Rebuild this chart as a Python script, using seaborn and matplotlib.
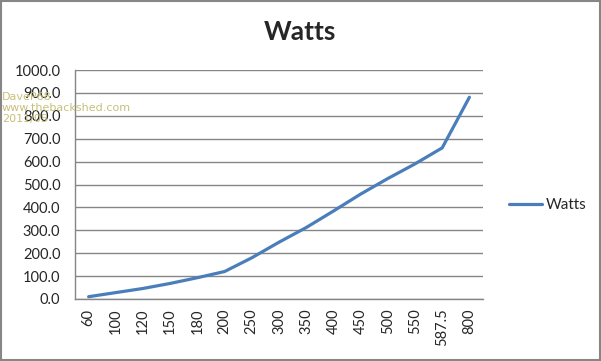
import numpy as np
import pandas as pd
import matplotlib
matplotlib.use("Agg")
import matplotlib.pyplot as plt
import seaborn as sns
from matplotlib.patches import Rectangle

# data
categories = ['60', '100', '120', '150', '180', '200', '250', '300', '350',
              '400', '450', '500', '550', '587.5', '800']
watts = [10, 28, 46, 68, 93, 120, 180, 248, 312, 384, 458, 526, 590, 660, 881]
yticks = np.arange(0, 1001, 100)

df = pd.DataFrame({'load': categories, 'Watts': watts})

sns.set_style("white")
plt.rcParams['font.family'] = ['Lato', 'DejaVu Sans']

grey = '#868686'
blue = '#4A7EBB'

fig = plt.figure(figsize=(6.01, 3.61), dpi=100)
ax = fig.add_axes([75/601, 1 - 299/361, 408/601, 229/361])

sns.lineplot(data=df, x='load', y='Watts', sort=False, color=blue,
             linewidth=2.3, ax=ax, label='Watts', legend=False)

ax.set_xlim(-0.5, len(categories) - 0.5)
ax.set_ylim(0, 1000)
ax.set_yticks(yticks)
ax.set_yticklabels([f'{v:.1f}' for v in yticks], fontsize=10.5)
ax.yaxis.grid(True, color=grey, linewidth=1)
ax.set_axisbelow(True)

ax.set_xticks(range(len(categories)))
ax.set_xticklabels(categories, rotation=90, fontsize=10.5)
ax.set_xticks(np.arange(-0.5, len(categories)), minor=True)
ax.tick_params(axis='x', which='major', length=0, pad=7)
ax.tick_params(axis='x', which='minor', length=5, color=grey, width=1, direction='out')
ax.tick_params(axis='y', length=4.5, color=grey, width=1, direction='out', pad=6)
ax.set_xlabel('')
ax.set_ylabel('')

for s in ['top', 'right']:
    ax.spines[s].set_visible(False)
for s in ['left', 'bottom']:
    ax.spines[s].set_color(grey)
    ax.spines[s].set_linewidth(1)

fig.text(300/601, 1 - 32/361, 'Watts', ha='center', va='center',
         fontsize=19, fontweight='bold')

handles, labels = ax.get_legend_handles_labels()
fig.legend(handles, labels, loc='center left', bbox_to_anchor=(495/601, 1 - 205/361),
           frameon=False, fontsize=11, handlelength=2.2, handletextpad=0.2)

# watermark
wm = '#C8C07A'
for i, line in enumerate(['DaveP68', 'www.thebackshed.com', '2011/05']):
    fig.text(2/601, 1 - (97 + i*11)/361, line, color=wm, fontsize=8,
             ha='left', va='center', family='DejaVu Sans', zorder=0)

fig.patches.append(Rectangle((0.001, 0.002), 0.997, 0.995, transform=fig.transFigure,
                             fill=False, edgecolor=grey, linewidth=1.5))

fig.savefig('out.png', dpi=100)
